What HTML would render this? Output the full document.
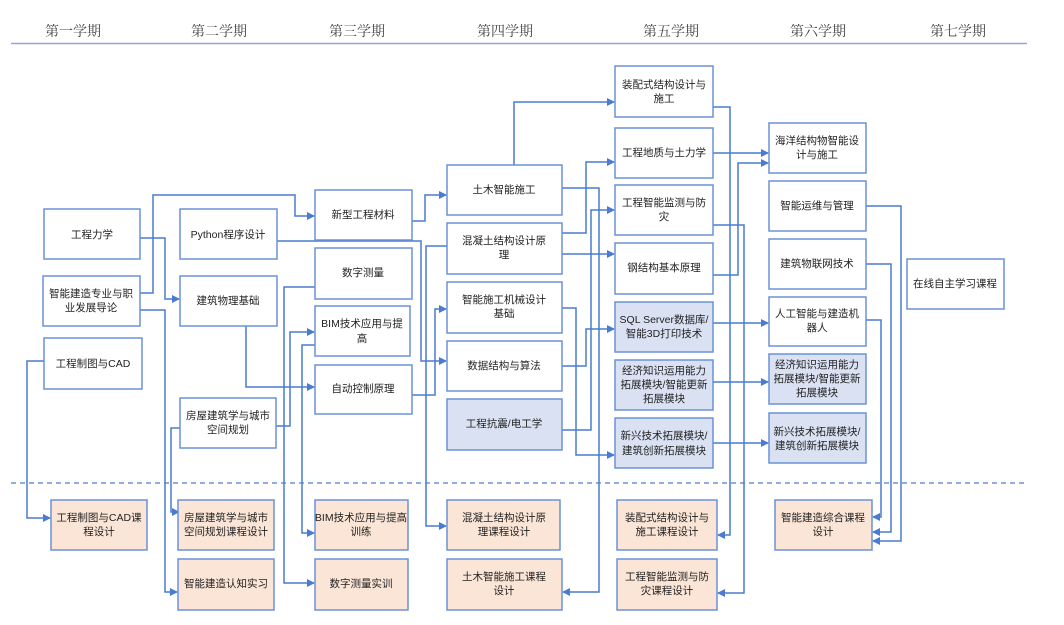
<!DOCTYPE html>
<html><head><meta charset="utf-8"><style>
html,body{margin:0;padding:0;background:#fff;}
svg{display:block;}
text{font-family:"Liberation Sans","Noto Sans CJK SC",sans-serif;font-size:10.5px;fill:#222;text-anchor:middle;}
.h{font-family:"Liberation Serif","Noto Serif CJK SC",serif;font-size:14px;fill:#444;}
.b{fill:#fff;stroke:#6a92d8;stroke-width:1.5;}
.s{fill:#d9e1f2;stroke:#6a92d8;stroke-width:1.5;}
.o{fill:#fbe5d6;stroke:#6a92d8;stroke-width:1.5;}
.l{fill:none;stroke:#4a7bd0;stroke-width:1.5;}
</style></head><body>
<svg width="1064" height="625" viewBox="0 0 1064 625">
<defs><marker id="a" markerWidth="8" markerHeight="8" refX="7" refY="4" orient="auto" markerUnits="userSpaceOnUse"><path d="M0,0 L8,4 L0,8 z" fill="#4a7bd0"/></marker></defs>
<text class="h" x="73" y="36">第一学期</text><text class="h" x="219" y="36">第二学期</text><text class="h" x="357" y="36">第三学期</text><text class="h" x="505" y="36">第四学期</text><text class="h" x="671" y="36">第五学期</text><text class="h" x="818" y="36">第六学期</text><text class="h" x="958" y="36">第七学期</text>
<line x1="11" y1="43.5" x2="1027" y2="43.5" stroke="#8aaae0" stroke-width="1.5"/>
<line x1="11" y1="483" x2="1027" y2="483" stroke="#6a92d8" stroke-width="1.5" stroke-dasharray="5,4"/>

<g class="l" marker-end="url(#a)">
<path d="M140,238 H165 V299 H179"/>
<path d="M140,293 H153 V195 H295 V216 H314"/>
<path d="M140,310 H165 V592 H177"/>
<path d="M277,241 H421 V361 H446"/>
<path d="M447,246 H426 V526 H446"/>
<path d="M246,326 V387 H314"/>
<path d="M315,287 H284 V583 H314"/>
<path d="M276,426 H290 V332 H314"/>
<path d="M180,428 H171 V512 H179"/>
<path d="M315,345 H302 V533 H314"/>
<path d="M44,361 H27 V518 H50"/>
<path d="M412,221 H425 V195 H446"/>
<path d="M412,395 H435 V309 H446"/>
<path d="M514,165 V102 H614"/>
<path d="M562,188 H599 V592 H563"/>
<path d="M562,233 H586 V162 H614"/>
<path d="M562,254 H614"/>
<path d="M562,308 H576 V455 H614"/>
<path d="M562,366 H586 V329 H614"/>
<path d="M562,430 H591 V210 H614"/>
<path d="M713,107 H730 V535 H718"/>
<path d="M713,153 H768"/>
<path d="M713,225 H744 V593 H718"/>
<path d="M713,275 H738 V163 H768"/>
<path d="M713,323 H768"/>
<path d="M713,382 H768"/>
<path d="M713,443 H768"/>
<path d="M866,206 H901 V541 H873"/>
<path d="M866,264 H891 V532 H873"/>
<path d="M866,320 H881 V517 H873"/>
</g>

<rect class="b" x="44" y="209" width="96" height="50"/><text x="92" y="238">工程力学</text>
<rect class="b" x="43" y="276" width="97" height="50"/><text x="91" y="297">智能建造专业与职</text><text x="91" y="311">业发展导论</text>
<rect class="b" x="44" y="338" width="98" height="51"/><text x="93" y="367">工程制图与CAD</text>

<rect class="b" x="180" y="209" width="97" height="50"/><text x="228" y="238">Python程序设计</text>
<rect class="b" x="180" y="276" width="97" height="50"/><text x="228" y="304">建筑物理基础</text>
<rect class="b" x="180" y="398" width="96" height="50"/><text x="228" y="419">房屋建筑学与城市</text><text x="228" y="433">空间规划</text>

<rect class="b" x="315" y="190" width="97" height="50"/><text x="363" y="218">新型工程材料</text>
<rect class="b" x="315" y="248" width="97" height="51"/><text x="363" y="276">数字测量</text>
<rect class="b" x="315" y="306" width="95" height="50"/><text x="362" y="327">BIM技术应用与提</text><text x="362" y="342">高</text>
<rect class="b" x="315" y="365" width="97" height="49"/><text x="363" y="392">自动控制原理</text>

<rect class="b" x="447" y="165" width="115" height="50"/><text x="504" y="193">土木智能施工</text>
<rect class="b" x="447" y="223" width="115" height="51"/><text x="504" y="244">混凝土结构设计原</text><text x="504" y="258">理</text>
<rect class="b" x="447" y="282" width="115" height="51"/><text x="504" y="303">智能施工机械设计</text><text x="504" y="317">基础</text>
<rect class="b" x="447" y="341" width="115" height="50"/><text x="504" y="369">数据结构与算法</text>
<rect class="s" x="447" y="399" width="115" height="51"/><text x="504" y="427">工程抗震/电工学</text>

<rect class="b" x="615" y="66" width="98" height="51"/><text x="664" y="88">装配式结构设计与</text><text x="664" y="102">施工</text>
<rect class="b" x="615" y="128" width="98" height="50"/><text x="664" y="156">工程地质与土力学</text>
<rect class="b" x="615" y="185" width="98" height="50"/><text x="664" y="206">工程智能监测与防</text><text x="664" y="220">灾</text>
<rect class="b" x="615" y="243" width="98" height="51"/><text x="664" y="271">钢结构基本原理</text>
<rect class="s" x="615" y="302" width="98" height="50"/><text x="664" y="323">SQL Server数据库/</text><text x="664" y="337">智能3D打印技术</text>
<rect class="s" x="615" y="360" width="98" height="50"/><text x="664" y="374">经济知识运用能力</text><text x="664" y="388">拓展模块/智能更新</text><text x="664" y="402">拓展模块</text>
<rect class="s" x="615" y="418" width="98" height="50"/><text x="664" y="439">新兴技术拓展模块/</text><text x="664" y="454">建筑创新拓展模块</text>

<rect class="b" x="769" y="123" width="97" height="50"/><text x="817" y="144">海洋结构物智能设</text><text x="817" y="158">计与施工</text>
<rect class="b" x="769" y="181" width="97" height="50"/><text x="817" y="209">智能运维与管理</text>
<rect class="b" x="769" y="239" width="97" height="50"/><text x="817" y="267">建筑物联网技术</text>
<rect class="b" x="769" y="297" width="97" height="49"/><text x="817" y="317">人工智能与建造机</text><text x="817" y="331">器人</text>
<rect class="s" x="769" y="354" width="97" height="50"/><text x="817" y="368">经济知识运用能力</text><text x="817" y="382">拓展模块/智能更新</text><text x="817" y="396">拓展模块</text>
<rect class="s" x="769" y="413" width="97" height="50"/><text x="817" y="435">新兴技术拓展模块/</text><text x="817" y="449">建筑创新拓展模块</text>

<rect class="b" x="907" y="259" width="97" height="50"/><text x="955" y="287">在线自主学习课程</text>

<rect class="o" x="51" y="500" width="96" height="50"/><text x="99" y="521">工程制图与CAD课</text><text x="99" y="535">程设计</text>
<rect class="o" x="178" y="500" width="96" height="50"/><text x="226" y="521">房屋建筑学与城市</text><text x="226" y="535">空间规划课程设计</text>
<rect class="o" x="178" y="559" width="96" height="51"/><text x="226" y="587">智能建造认知实习</text>
<rect class="o" x="315" y="500" width="93" height="50"/><text x="361" y="521">BIM技术应用与提高</text><text x="361" y="535">训练</text>
<rect class="o" x="315" y="559" width="93" height="51"/><text x="361" y="587">数字测量实训</text>
<rect class="o" x="447" y="500" width="113" height="50"/><text x="504" y="521">混凝土结构设计原</text><text x="504" y="535">理课程设计</text>
<rect class="o" x="447" y="559" width="115" height="51"/><text x="504" y="580">土木智能施工课程</text><text x="504" y="594">设计</text>
<rect class="o" x="617" y="500" width="100" height="50"/><text x="667" y="521">装配式结构设计与</text><text x="667" y="535">施工课程设计</text>
<rect class="o" x="617" y="559" width="100" height="51"/><text x="667" y="580">工程智能监测与防</text><text x="667" y="594">灾课程设计</text>
<rect class="o" x="775" y="500" width="97" height="50"/><text x="823" y="521">智能建造综合课程</text><text x="823" y="535">设计</text>
</svg>
</body></html>
